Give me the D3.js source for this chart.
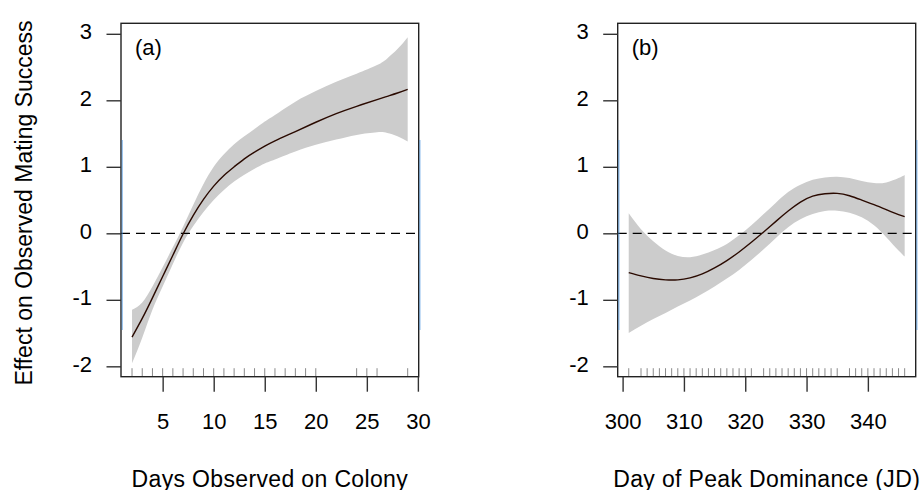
<!DOCTYPE html>
<html>
<head>
<meta charset="utf-8">
<script src="https://cdn.jsdelivr.net/npm/d3@7"></script>
<style>
  body { margin: 0; background: #fff; }
  text { font-family: "Liberation Sans", Arial, sans-serif; fill: #000; }
</style>
</head>
<body>
<div id="viz"></div>
<script>

// Panel (a): days observed on colony
const daysX     = [2, 3, 4, 5, 6, 7, 8, 9, 10, 11, 12, 13, 14, 15, 16, 18, 20, 22, 24, 26, 27, 28, 29]
const daysFit   = [-1.56, -1.28, -0.97, -0.65, -0.33, -0.01, 0.27, 0.51, 0.71, 0.87, 1.00, 1.12, 1.22, 1.31, 1.39, 1.53, 1.67, 1.80, 1.91, 2.01, 2.06, 2.11, 2.165]
const daysUpper = [-1.15, -1.04, -0.80, -0.51, -0.21, 0.10, 0.43, 0.74, 1.00, 1.19, 1.34, 1.46, 1.57, 1.68, 1.78, 1.98, 2.14, 2.28, 2.40, 2.53, 2.63, 2.77, 2.95]
const daysLower = [-1.955, -1.57, -1.15, -0.80, -0.46, -0.14, 0.11, 0.32, 0.50, 0.65, 0.78, 0.88, 0.97, 1.05, 1.11, 1.23, 1.33, 1.41, 1.48, 1.52, 1.51, 1.46, 1.38]
const daysRug   = [2, 3, 4, 5, 6, 7, 8, 9, 10, 11, 12, 13, 14, 15, 16, 17, 18, 19, 20, 24, 25, 26, 29]
const daysTicks = [5, 10, 15, 20, 25, 30]

// Panel (b): day of peak dominance
const peakX     = [301, 303, 305, 307, 309, 311, 313, 315, 317, 319, 321, 323, 325, 327, 329, 331, 333, 335, 337, 339, 341, 343, 345, 346]
const peakFit   = [-0.59, -0.64, -0.68, -0.70, -0.70, -0.67, -0.61, -0.52, -0.41, -0.28, -0.135, 0.02, 0.18, 0.335, 0.47, 0.56, 0.595, 0.60, 0.565, 0.50, 0.43, 0.355, 0.28, 0.25]
const peakUpper = [0.30, 0.06, -0.12, -0.26, -0.34, -0.36, -0.32, -0.25, -0.16, -0.03, 0.12, 0.29, 0.46, 0.62, 0.73, 0.805, 0.84, 0.85, 0.83, 0.785, 0.755, 0.765, 0.83, 0.877]
const peakLower = [-1.50, -1.39, -1.29, -1.20, -1.10, -1.01, -0.91, -0.80, -0.68, -0.55, -0.40, -0.24, -0.07, 0.09, 0.21, 0.29, 0.335, 0.34, 0.31, 0.24, 0.12, -0.06, -0.26, -0.35]
const peakRug   = [301, 303, 304, 305, 306, 307, 308, 309, 310, 311, 312, 313, 314, 315, 316, 317, 318, 319, 320, 321,
                   323, 324, 325, 326, 327, 328, 329, 330, 331, 332, 333, 334, 335,
                   337, 338, 339, 340, 341, 342, 343, 344, 345, 346]
const peakTicks = [300, 310, 320, 330, 340]

const yTicks = [-2, -1, 0, 1, 2, 3]

let width = 923,
    height = 490;

let plotTop = 23.3,
    plotBottom = 376.7;

// Setup & append SVG
let svg = d3.select('#viz')
            .append('svg')
            .attr('width', width)
            .attr('height', height)
            .style('background', '#fff')

// shared y scale (same ylim in both panels)
let yScale = d3.scaleLinear()
                .domain([-2.156, 3.158])
                .range([plotBottom, plotTop])

function drawPanel(p) {
  let xScale = d3.scaleLinear()
                  .domain(p.domain)
                  .range([p.left, p.right])

  let g = svg.append('g')

  let rows = p.x.map((d, i) => ({ x: d, fit: p.fit[i], hi: p.upper[i], lo: p.lower[i] }))

  // confidence band
  let area = d3.area()
               .x(d => xScale(d.x))
               .y0(d => yScale(d.lo))
               .y1(d => yScale(d.hi))
               .curve(d3.curveNatural)
  g.append('path')
    .datum(rows)
    .attr('d', area)
    .style('fill', '#cccccc')

  // zero reference line
  g.append('line')
    .attr('x1', p.left)
    .attr('x2', p.right)
    .attr('y1', yScale(0))
    .attr('y2', yScale(0))
    .style('stroke', '#000')
    .style('stroke-width', 1.3)
    .style('stroke-dasharray', '9,6')

  // fitted smooth
  let line = d3.line()
               .x(d => xScale(d.x))
               .y(d => yScale(d.fit))
               .curve(d3.curveNatural)
  g.append('path')
    .datum(rows)
    .attr('d', line)
    .style('fill', 'none')
    .style('stroke', '#2a0a00')
    .style('stroke-width', 1.4)

  // rug
  g.selectAll('.rug')
    .data(p.rug)
    .enter()
      .append('line')
      .attr('x1', d => xScale(d))
      .attr('x2', d => xScale(d))
      .attr('y1', plotBottom)
      .attr('y2', plotBottom - 8.5)
      .style('stroke', '#8a8a8a')
      .style('stroke-width', 1)

  // box
  g.append('rect')
    .attr('x', p.left)
    .attr('y', plotTop)
    .attr('width', p.right - p.left)
    .attr('height', plotBottom - plotTop)
    .style('fill', 'none')
    .style('stroke', '#222')
    .style('stroke-width', 1.4)

  // slight blue fringe seen along the box sides
  ;[p.left + 1.2, p.right + 1.2].forEach(xx => {
    g.append('line')
      .attr('x1', xx).attr('x2', xx)
      .attr('y1', 140).attr('y2', 330)
      .style('stroke', '#3d8ee0')
      .style('stroke-width', 0.9)
      .style('opacity', 0.8)
  })

  // y axis
  let yAxis = d3.axisLeft(yScale)
                .tickValues(yTicks)
                .tickSize(14.5)
                .tickPadding(0)
                .tickFormat(d => String(d))
  let ya = g.append('g')
            .attr('transform', `translate(${p.left},0)`)
            .call(yAxis)
  ya.select('.domain').remove()
  ya.selectAll('.tick line').style('stroke', '#333').style('stroke-width', 1.4)
  ya.selectAll('.tick text')
    .attr('x', -29)
    .attr('dy', '0.22em')
    .style('font-size', '22px')
    .style('font-family', '"Liberation Sans", Arial, sans-serif')
    .style('fill', '#000')

  // x axis
  let xAxis = d3.axisBottom(xScale)
                .tickValues(p.ticks)
                .tickSize(15)
                .tickPadding(0)
                .tickFormat(d => String(d))
  let xa = g.append('g')
            .attr('transform', `translate(0,${plotBottom})`)
            .call(xAxis)
  xa.select('.domain').remove()
  xa.selectAll('.tick line').style('stroke', '#333').style('stroke-width', 1.4)
  xa.selectAll('.tick text')
    .attr('y', 52.6)
    .attr('dy', 0)
    .style('font-size', '22px')
    .style('font-family', '"Liberation Sans", Arial, sans-serif')
    .style('fill', '#000')

  // panel tag
  g.append('text')
    .attr('x', p.left + 14)
    .attr('y', 55)
    .style('font-size', '22px')
    .text(p.tag)

  // x title
  g.append('text')
    .attr('x', (p.left + p.right) / 2)
    .attr('y', 486.5)
    .attr('text-anchor', 'middle')
    .style('font-size', '23px')
    .style('letter-spacing', '0.35px')
    .text(p.title)
}

drawPanel({ left: 121, right: 418.7, domain: [0.92, 30.08], x: daysX, fit: daysFit, upper: daysUpper, lower: daysLower,
            rug: daysRug, ticks: daysTicks, tag: '(a)', title: 'Days Observed on Colony' })

drawPanel({ left: 617.7, right: 915.7, domain: [299.2, 347.8], x: peakX, fit: peakFit, upper: peakUpper, lower: peakLower,
            rug: peakRug, ticks: peakTicks, tag: '(b)', title: 'Day of Peak Dominance (JD)' })

// y axis title (only on the left panel)
svg.append('text')
   .attr('transform', `translate(31.5,${(plotTop + plotBottom) / 2 + 3}) rotate(-90)`)
   .attr('text-anchor', 'middle')
   .style('font-size', '23px')
   .text('Effect on Observed Mating Success')

</script>
</body>
</html>
